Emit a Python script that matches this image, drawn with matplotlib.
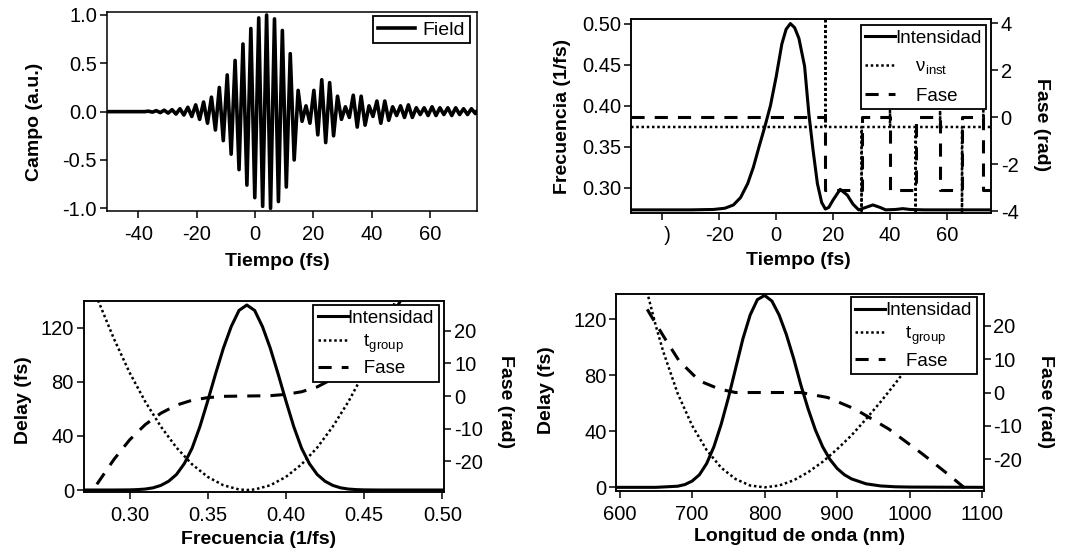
import numpy as np
import matplotlib.pyplot as plt

plt.rcParams['font.family'] = ['Liberation Sans', 'DejaVu Sans']
plt.rcParams['mathtext.fontset'] = 'custom'
plt.rcParams['mathtext.rm'] = 'Liberation Sans'
plt.rcParams['mathtext.it'] = 'Liberation Sans'
plt.rcParams['mathtext.bf'] = 'Liberation Sans:bold'
plt.rcParams['axes.unicode_minus'] = False

# ---- campo electrico: extremos de cada ciclo (periodo ~2.7 fs, desde -50 fs)
field_start = -50.0
field_period = 2.7
field_pos = [0, 0, 0, 0, 0, 0.005, 0.01, 0.015, 0.02, 0.03,
             0.045, 0.07, 0.10, 0.15, 0.25, 0.38, 0.53, 0.70, 0.86, 0.97,
             1.00, 0.96, 0.84, 0.60, 0.22, 0.06, 0.22, 0.33, 0.30, 0.16,
             0.05, 0.17, 0.16, 0.06, 0.11, 0.11, 0.05, 0.06, 0.07, 0.04,
             0.04, 0.05, 0.04, 0.04, 0.04, 0.03, 0.03]
field_neg = [0, 0, 0, 0, 0, -0.005, -0.01, -0.015, -0.025, -0.035,
             -0.05, -0.08, -0.12, -0.19, -0.30, -0.44, -0.60, -0.76, -0.89, -0.98,
             -1.00, -0.93, -0.78, -0.50, -0.10, -0.12, -0.24, -0.32, -0.25, -0.08,
             -0.06, -0.16, -0.14, -0.05, -0.12, -0.09, -0.04, -0.06, -0.06, -0.03,
             -0.04, -0.04, -0.03, -0.04, -0.03, -0.03, -0.02]

# ---- intensidad temporal (en unidades del eje de frecuencia)
int_t = [-51, -30, -22, -18, -15, -12.5, -10, -8, -6, -4, -2, 0, 2, 3.5, 5,
         6.5, 8, 10, 11.5, 13, 14.5, 16, 17.3, 18.5, 20, 22.5, 25, 27, 29,
         31.5, 34, 36.5, 38.5, 42, 44.5, 47, 52, 76]
int_v = [0.273, 0.273, 0.2735, 0.275, 0.279, 0.288, 0.305, 0.325, 0.350, 0.374,
         0.400, 0.435, 0.475, 0.493, 0.500, 0.495, 0.482, 0.448, 0.390, 0.345,
         0.305, 0.282, 0.274, 0.276, 0.285, 0.298, 0.291, 0.280, 0.273,
         0.276, 0.279, 0.276, 0.273, 0.2735, 0.2745, 0.2735, 0.273, 0.273]

# ---- frecuencia instantanea
nu_t = [-51, 17.3, 17.3, 17.4, 30.0, 30.0, 30.1, 40.0, 40.0, 40.1, 49.0, 49.0, 49.1,
        57.6, 57.6, 57.7, 65.3, 65.3, 65.4, 72.8, 72.8, 72.9, 76]
nu_v = [0.374, 0.374, 0.56, 0.374, 0.374, 0.25, 0.374, 0.374, 0.394, 0.374,
        0.374, 0.25, 0.374, 0.374, 0.394, 0.374, 0.374, 0.25, 0.374,
        0.374, 0.394, 0.374, 0.374]

# ---- fase temporal (rad)
ph_t = [-51, 17.3, 17.3, 30, 30, 40, 40, 49, 49, 57.6, 57.6, 65.3, 65.3, 72.8, 72.8, 76]
ph_v = [0, 0, -3.1, -3.1, 0, 0, -3.1, -3.1, 0, 0, -3.1, -3.1, 0, 0, -3.1, -3.1]

# ---- espectro en frecuencia
sp_f = [0.2706, 0.29, 0.30, 0.305, 0.31, 0.315, 0.32, 0.325, 0.33, 0.335, 0.34,
        0.345, 0.35, 0.355, 0.36, 0.365, 0.37, 0.375, 0.38, 0.385, 0.39, 0.395,
        0.40, 0.405, 0.41, 0.415, 0.42, 0.425, 0.43, 0.435, 0.44, 0.445, 0.45,
        0.46, 0.50]
sp_int = [0, 0, 0.1, 0.3, 0.7, 1.6, 3.4, 6.5, 11.5, 19.5, 31,
          47, 66, 86, 105, 121, 133, 137, 133, 121, 105, 86,
          66, 47, 31, 19.5, 11.5, 6.5, 3.4, 1.6, 0.7, 0.3, 0.1,
          0, 0]
tg_f = [0.275, 0.28, 0.29, 0.30, 0.31, 0.32, 0.33, 0.34, 0.35, 0.36, 0.37, 0.375,
        0.38, 0.39, 0.40, 0.41, 0.42, 0.43, 0.44, 0.45, 0.46, 0.47, 0.475]
tg_f_v = [155, 140, 112, 87, 65.5, 47, 31.4, 19, 9.7, 3.5, 0.4, 0,
          0.4, 3.5, 9.7, 19, 31.4, 47, 65.5, 87, 112, 140, 155]
phf_f = [0.2706, 0.28, 0.29, 0.30, 0.31, 0.32, 0.33, 0.34, 0.35, 0.36, 0.375,
         0.39, 0.40, 0.41, 0.42, 0.43, 0.44, 0.45, 0.46, 0.47, 0.48]
phf_v = [-33, -26.5, -19.5, -13.5, -8.8, -5.3, -2.8, -1.3, -0.5, -0.1, 0,
         0.1, 0.5, 1.3, 2.8, 5.3, 8.8, 13.5, 19.5, 26.5, 35]

# ---- espectro en longitud de onda
wl = [595, 650, 680, 690, 700, 710, 720, 730, 740, 750, 760, 770, 780, 790, 800,
      810, 820, 830, 840, 850, 860, 870, 880, 890, 900, 910, 920, 940, 960, 980,
      1000, 1102]
wl_int = [0, 0, 0.8, 2, 4.5, 9, 17, 29, 45, 64, 85, 106, 123, 134, 137,
          133, 123, 109, 92, 73, 56, 41, 29, 20, 13.5, 9, 6, 2.5, 1, 0.4,
          0.2, 0]
tg_wl = [630, 640, 650, 660, 680, 700, 720, 740, 760, 780, 800, 820, 840, 860,
         880, 900, 920, 940, 960, 980, 1000, 1020, 1040]
tg_wl_v = [158, 135, 115, 97, 67, 44, 26.6, 14, 5.9, 1.3, 0, 1.3, 5, 10.8,
           18.2, 27.2, 37.2, 48.8, 61, 74, 87.7, 102, 116.5]
phw_wl = [638, 642, 663, 682, 710, 738, 760, 800, 850, 887, 925, 971.5, 1018,
          1055.6, 1081, 1090]
phw_v = [25, 23.5, 16, 9.5, 3.5, 1.0, 0, 0, 0, -1.5, -5.0, -11, -18.5, -25,
         -29.6, -31.5]

# ---- figura
W, H = 1065, 554
fig = plt.figure(figsize=(W / 100, H / 100), dpi=100)


def box(l, t, r, b):
    return [l / W, 1 - b / H, (r - l) / W, (b - t) / H]


def style(ax):
    for s in ax.spines.values():
        s.set_linewidth(1.1)
    ax.tick_params(direction='out', length=5, width=1.1, labelsize=14.5)
    ax.tick_params(axis='x', pad=5)
    ax.tick_params(axis='y', pad=2)


solid = dict(color='black', lw=2.2)
dotted = dict(color='black', lw=1.8, linestyle=(0, (1, 1.1)))
dashed = dict(color='black', lw=2.2, linestyle=(0, (4.3, 3.3)))
lab = dict(fontsize=14, fontweight='bold')
leg_kw = dict(loc='upper left', borderaxespad=0, fancybox=False, framealpha=1,
              edgecolor='black', fontsize=13.5, handlelength=1.6, handletextpad=0.0,
              borderpad=0.25, labelspacing=0.3)

# panel 1: campo
ax1 = fig.add_axes(box(106.7, 11.7, 476.7, 211))
ft = [-51]
fv = [0]
for k in range(len(field_pos)):
    tp = field_start + k * field_period
    ft += [tp, tp + field_period / 2]
    fv += [field_pos[k], field_neg[k]]
ft.append(76)
fv.append(0)
ax1.plot(ft, fv, label='Field', color='black', lw=2.6)
ax1.set_xlim(-50.8, 76)
ax1.set_ylim(-1.028, 1.034)
ax1.set_xticks([-40, -20, 0, 20, 40, 60])
ax1.set_yticks([-1.0, -0.5, 0.0, 0.5, 1.0])
ax1.set_yticklabels(['-1.0', '-0.5', '0.0', '0.5', '1.0'])
ax1.set_xlabel('Tiempo (fs)', **lab)
ax1.set_ylabel('Campo (a.u.)', **lab)
ax1.xaxis.set_label_coords(0.46, -0.21)
ax1.yaxis.set_label_coords(-0.172, 0.448)
style(ax1)
lg = ax1.legend(bbox_to_anchor=(0.719, 0.978),
                **dict(leg_kw, fontsize=14, handlelength=1.9, handletextpad=0.4))
lg.get_frame().set_linewidth(1.3)

# panel 2: intensidad temporal
ax2 = fig.add_axes(box(631, 19.3, 991, 212.5))
ax2b = ax2.twinx()
l1, = ax2.plot(int_t, int_v, **solid)
l2, = ax2.plot(nu_t, nu_v, **dotted)
l3, = ax2b.plot(ph_t, ph_v, **dashed)
ax2.set_xlim(-51, 75.5)
ax2.set_ylim(0.2698, 0.5052)
ax2b.set_ylim(-4.06, 4.16)
ax2.set_xticks([-40, -20, 0, 20, 40, 60])
ax2.set_xticklabels(['  )', '-20', '0', '20', '40', '60'])
ax2.set_yticks([0.30, 0.35, 0.40, 0.45, 0.50])
ax2.set_yticklabels(['0.30', '0.35', '0.40', '0.45', '0.50'])
ax2b.set_yticks([-4, -2, 0, 2, 4])
ax2.set_xlabel('Tiempo (fs)', **lab)
ax2.set_ylabel('Frecuencia (1/fs)', **lab)
ax2b.set_ylabel('Fase (rad)', rotation=-90, va='bottom', **lab)
ax2.xaxis.set_label_coords(0.466, -0.205)
ax2.yaxis.set_label_coords(-0.168, 0.496)
ax2b.yaxis.set_label_coords(1.117, 0.453)
style(ax2)
style(ax2b)
lg = ax2b.legend([l1, l2, l3], ['Intensidad', r'    $\nu_{inst}$', '    Fase'],
                 bbox_to_anchor=(0.638, 0.9705), **dict(leg_kw, labelspacing=0.6))
lg.get_frame().set_linewidth(1.3)

# panel 3: espectro en frecuencia
ax3 = fig.add_axes(box(83.6, 300.7, 444.3, 492.3))
ax3b = ax3.twinx()
m1, = ax3.plot(sp_f, sp_int, **solid)
m2, = ax3.plot(tg_f, tg_f_v, **dotted)
m3, = ax3b.plot(phf_f, phf_v, **dashed)
ax3.set_xlim(0.2706, 0.5013)
ax3.set_ylim(-1.7, 140.2)
ax3b.set_ylim(-29.6, 29.3)
ax3.set_xticks([0.30, 0.35, 0.40, 0.45, 0.50])
ax3.set_xticklabels(['0.30', '0.35', '0.40', '0.45', '0.50'])
ax3.set_yticks([0, 40, 80, 120])
ax3b.set_yticks([-20, -10, 0, 10, 20])
ax3.set_xlabel('Frecuencia (1/fs)', **lab)
ax3.set_ylabel('Delay (fs)', **lab)
ax3b.set_ylabel('Fase (rad)', rotation=-90, va='bottom', **lab)
ax3.xaxis.set_label_coords(0.486, -0.2)
ax3.yaxis.set_label_coords(-0.143, 0.482)
ax3b.yaxis.set_label_coords(1.146, 0.473)
style(ax3)
style(ax3b)
lg = ax3b.legend([m1, m2, m3], ['Intensidad', r'   $t_{group}$', '   Fase'],
                 bbox_to_anchor=(0.636, 0.9775), **leg_kw)
lg.get_frame().set_linewidth(1.3)

# panel 4: espectro en longitud de onda
ax4 = fig.add_axes(box(616.3, 294, 983.5, 490.7))
ax4b = ax4.twinx()
n1, = ax4.plot(wl, wl_int, **solid)
n2, = ax4.plot(tg_wl, tg_wl_v, **dotted)
n3, = ax4b.plot(phw_wl, phw_v, **dashed)
ax4.set_xlim(595.3, 1102)
ax4.set_ylim(-2.4, 138)
ax4b.set_ylim(-29.5, 29.6)
ax4.set_xticks([600, 700, 800, 900, 1000, 1100])
ax4.set_yticks([0, 40, 80, 120])
ax4b.set_yticks([-20, -10, 0, 10, 20])
ax4.set_xlabel('Longitud de onda (nm)', **lab)
ax4.set_ylabel('Delay (fs)', **lab)
ax4b.set_ylabel('Fase (rad)', rotation=-90, va='bottom', **lab)
ax4.xaxis.set_label_coords(0.5, -0.19)
ax4.yaxis.set_label_coords(-0.166, 0.512)
ax4b.yaxis.set_label_coords(1.147, 0.452)
style(ax4)
style(ax4b)
lg = ax4b.legend([n1, n2, n3], ['Intensidad', r'    $t_{group}$', '    Fase'],
                 bbox_to_anchor=(0.6386, 0.983), **leg_kw)
lg.get_frame().set_linewidth(1.3)

fig.savefig('out.png', dpi=100)
